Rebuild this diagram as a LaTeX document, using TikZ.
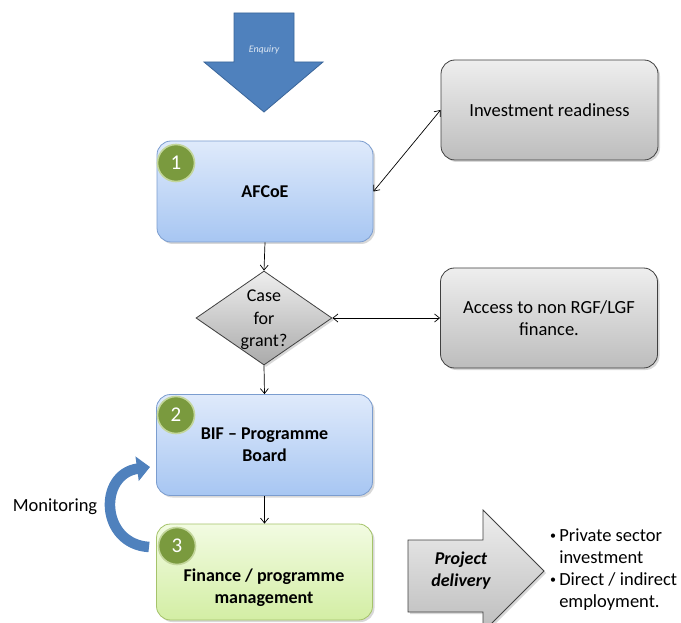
\documentclass[tikz,border=0pt]{standalone}
\usepackage{fontspec}
\setmainfont{Carlito}
\usetikzlibrary{shapes.geometric,arrows.meta,shadows,calc}
\definecolor{bluetop}{HTML}{DFEAFB}
\definecolor{bluebot}{HTML}{A7C6F2}
\definecolor{blueedge}{HTML}{7B9DCF}
\definecolor{greentop}{HTML}{F2FBE2}
\definecolor{greenbot}{HTML}{D3EEA4}
\definecolor{greenedge}{HTML}{A5C36A}
\definecolor{graytop}{HTML}{EEEEEE}
\definecolor{graybot}{HTML}{BDBDBD}
\definecolor{grayedge}{HTML}{404040}
\definecolor{circfill}{HTML}{7A9A3E}
\definecolor{circedge}{HTML}{C3D69B}
\definecolor{arrowblue}{HTML}{4F81BD}
\definecolor{arrowedge}{HTML}{3A659A}
\definecolor{enqtext}{HTML}{DCE6F2}
\tikzset{
  txt/.style={font=\fontsize{18.5}{22}\selectfont},
  btxt/.style={font=\fontsize{18}{22}\selectfont\bfseries,align=center},
  shad/.style={drop shadow={opacity=0.3,shadow xshift=2pt,shadow yshift=-2pt}},
  bluebox/.style={rectangle,rounded corners=14pt,draw=blueedge,line width=0.8pt,top color=bluetop,bottom color=bluebot,shad,minimum width=216pt,minimum height=101pt,btxt},
  greenbox/.style={bluebox,draw=greenedge,top color=greentop,bottom color=greenbot},
  graybox/.style={rectangle,rounded corners=14pt,draw=grayedge,line width=0.8pt,top color=graytop,bottom color=graybot,shad,minimum width=217pt,minimum height=100pt,txt,align=center},
  numcirc/.style={circle,fill=circfill,draw=circedge,line width=1.6pt,minimum size=37pt,inner sep=0pt,text=white,font=\fontsize{21}{24}\selectfont},
  conn/.style={line width=0.7pt,-{Straight Barb[length=5pt,width=8pt]}},
  dconn/.style={line width=0.7pt,{Straight Barb[length=5pt,width=8pt]}-{Straight Barb[length=5pt,width=8pt]}},
}
\begin{document}
\begin{tikzpicture}[x=1pt,y=-1pt]
\useasboundingbox (0,0) rectangle (681,623);
\clip (0,0) rectangle (681,623);
\fill[white] (0,0) rectangle (681,623);
% Enquiry arrow
\draw[fill=arrowblue,draw=arrowedge,line width=0.8pt] (234,13) -- (294,13) -- (294,62) -- (323,62) -- (264,112) -- (204,62) -- (234,62) -- cycle;
\node[text=enqtext,font=\fontsize{10}{12}\selectfont\itshape] (enq) at (264,50) {Enquiry};
% boxes
\node[bluebox] (afcoe) at (265,191.5) {AFCoE};
\node[numcirc] (c1) at (176,163) {1};
\node[graybox] (ir) at (549.5,110) {Investment readiness};
\node[diamond,draw=grayedge,line width=0.8pt,top color=graytop,bottom color=graybot!90!black,shad,minimum width=136pt,minimum height=94pt,inner sep=0pt] (dia) at (264,318) {};
\node[align=center,font=\fontsize{18}{22.5}\selectfont] (diatext) at (264,320) {Case\\for\\grant?};
\node[graybox] (acc) at (549,318) {Access to non RGF/LGF\\finance.};
\node[bluebox] (bif) at (264.5,445) {BIF -- Programme\\Board};
\node[numcirc] (c2) at (176,415) {2};
\node[greenbox,minimum height=96pt] (fin) at (264.5,572) {};
\node[btxt] (fintext) at (264,588) {Finance / programme\\management};
\node[numcirc] (c3) at (177,546) {3};
% connectors
\draw[dconn] (ir.west) -- (afcoe.east);
\draw[conn] (afcoe.south) -- (dia.north);
\draw[dconn] (dia.east) -- (acc.west);
\draw[conn] (dia.south) -- (bif.north);
\draw[conn] (bif.south) -- (fin.north);
% monitoring arrow
\coordinate (mstart) at (149,547);
\coordinate (mend) at (150,467);
\draw[arrowblue,line width=10.5pt,-{Triangle[length=13pt,width=24pt]}] (mstart) .. controls (100,544) and (98,474) .. (mend);
\node[txt] (mon) at (55,507) {Monitoring};
% project delivery arrow
\draw[top color=graytop,bottom color=graybot,draw=grayedge,line width=0.8pt,shad] (408,540) -- (483,540) -- (483,510) -- (544,571) -- (483,632) -- (483,612) -- (408,612) -- cycle;
\node[align=center,font=\fontsize{18}{22}\selectfont\bfseries\itshape] (pd) at (461,571) {Project\\delivery};
\node[anchor=north west,align=left,font=\fontsize{18.5}{22}\selectfont,inner sep=0pt] (res) at (550,529) {{\fontsize{12}{12}\selectfont\raisebox{2pt}{\textbullet}}\,Private sector\\\phantom{{\fontsize{12}{12}\selectfont\textbullet}\,}investment\\{\fontsize{12}{12}\selectfont\raisebox{2pt}{\textbullet}}\,Direct / indirect\\\phantom{{\fontsize{12}{12}\selectfont\textbullet}\,}employment.};
\end{tikzpicture}
\end{document}
